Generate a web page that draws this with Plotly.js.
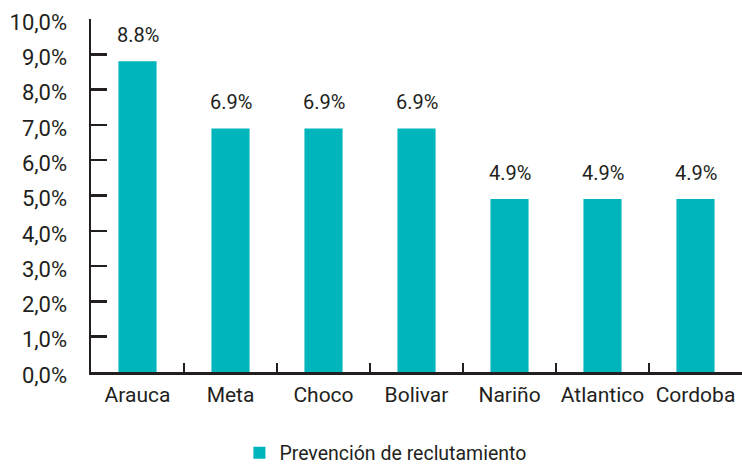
<!DOCTYPE html>
<html><head><meta charset="utf-8">
<script src="https://cdn.plot.ly/plotly-3.0.1.min.js"></script>
<style>html,body{margin:0;padding:0;background:#fff}#chart{width:742px;height:464px}</style>
</head><body><div id="chart"></div>
<script>
const categories = ["Arauca","Meta","Choco","Bolivar","Nariño","Atlantico","Cordoba"];
const values = [8.8, 6.9, 6.9, 6.9, 4.9, 4.9, 4.9];
const valueLabels = ["8.8%","6.9%","6.9%","6.9%","4.9%","4.9%","4.9%"];
const seriesName = "Prevención de reclutamiento";
const yTicks = [0,1,2,3,4,5,6,7,8,9,10];
const yTickText = ["0,0%","1,0%","2,0%","3,0%","4,0%","5,0%","6,0%","7,0%","8,0%","9,0%","10,0%"];

const FONT = "Roboto, 'Liberation Sans', sans-serif";
const INK = "#231f20";

const trace = {
  type: "bar", x: categories, y: values, name: seriesName,
  marker: {color: "#00b5bb"}, showlegend: true, hoverinfo: "none"
};
const annotations = categories.map((c,i)=>({
  x: c, y: values[i], text: valueLabels[i], showarrow: false,
  yanchor: "bottom", yshift: 12, font: {family: FONT, size: 20, color: INK}
}));
const layout = {
  width: 742, height: 464,
  margin: {l: 91, r: 0, t: 19, b: 92, autoexpand: false},
  paper_bgcolor: "#fff", plot_bgcolor: "#fff",
  bargap: 0.59,
  font: {family: FONT, color: INK, size: 20},
  xaxis: {
    type: "category", showline: true, linecolor: INK, linewidth: 2.5,
    ticks: "inside", tickson: "boundaries", ticklen: 9, tickwidth: 2, tickcolor: INK,
    tickangle: 0, automargin: false,
    tickfont: {family: FONT, size: 21, color: INK}, ticklabelstandoff: 2,
    showgrid: false, zeroline: false, fixedrange: true
  },
  yaxis: {
    range: [0, 10], tickmode: "array", tickvals: yTicks, ticktext: yTickText,
    showline: true, linecolor: INK, linewidth: 2.5, automargin: false,
    ticks: "inside", ticklen: 16, tickwidth: 2.5, tickcolor: INK,
    tickfont: {family: FONT, size: 22, color: INK}, ticklabelstandoff: 17, ticklabelshift: 3,
    showgrid: false, zeroline: false, fixedrange: true
  },
  legend: {
    orientation: "h", x: 0.228, xanchor: "left", y: -0.23, yanchor: "middle",
    font: {family: FONT, size: 19.5, color: INK}
  },
  annotations: annotations
};
Plotly.newPlot("chart", [trace], layout, {displayModeBar: false, staticPlot: true});
</script></body></html>
